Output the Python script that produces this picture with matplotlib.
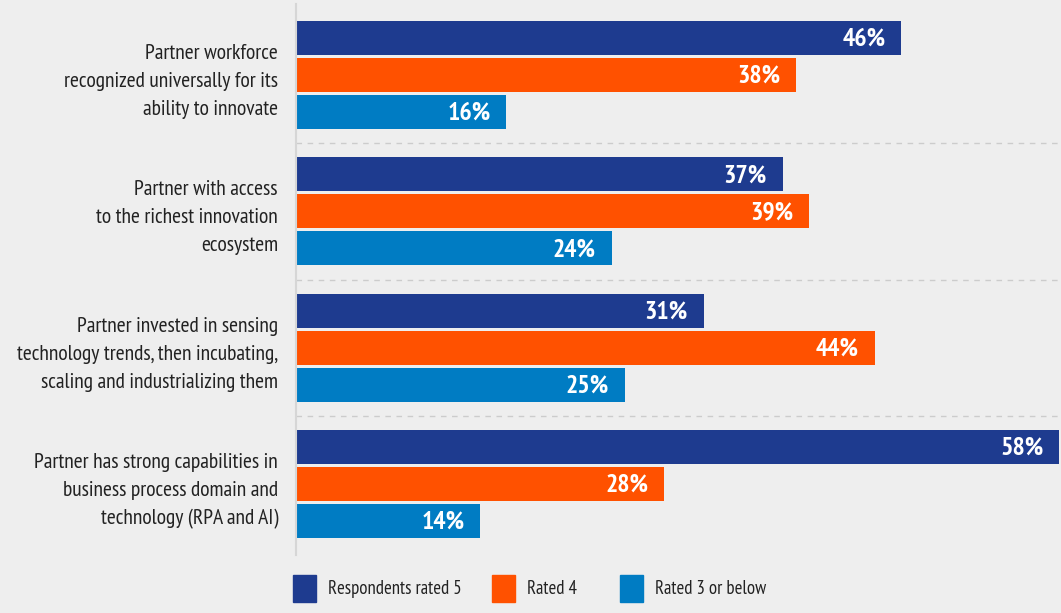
import matplotlib
matplotlib.use("Agg")
import matplotlib.pyplot as plt
from matplotlib.patches import Rectangle

plt.rcParams['font.family'] = ['PT Sans Narrow', 'Asap Condensed', 'Liberation Sans', 'DejaVu Sans']

# データ
categories = [
    "Partner workforce\nrecognized universally for its\nability to innovate",
    "Partner with access\nto the richest innovation\necosystem",
    "Partner invested in sensing\ntechnology trends, then incubating,\nscaling and industrializing them",
    "Partner has strong capabilities in\nbusiness process domain and\ntechnology (RPA and AI)",
]
series_names = ["Respondents rated 5", "Rated 4", "Rated 3 or below"]
rated_5 = [46, 37, 31, 58]
rated_4 = [38, 39, 44, 28]
rated_3_below = [16, 24, 25, 14]
colors = ["#1e3b8f", "#ff5100", "#007cc3"]

BG = "#eeeeee"
W, H = 1061, 613

fig = plt.figure(figsize=(W / 100, H / 100), dpi=100, facecolor=BG)
# 軸の位置 (ピクセル基準)
ax_left, ax_right, ax_top, ax_bottom = 296, 1061, 4, 555
ax = fig.add_axes([ax_left / W, 1 - ax_bottom / H,
                   (ax_right - ax_left) / W, (ax_bottom - ax_top) / H])
ax.set_facecolor(BG)

offset = 0.271
height = 0.25
for k, (vals, col) in enumerate(zip([rated_5, rated_4, rated_3_below], colors)):
    ys = [i + (k - 1) * offset for i in range(len(categories))]
    ax.barh(ys, vals, height=height, color=col, label=series_names[k])
    for y, v in zip(ys, vals):
        ax.text(v - 1.2, y + 0.01, f"{v}%", ha='right', va='center', color='white',
                fontsize=18.5, fontweight='bold')

ax.set_xlim(0, 58.15)
ax.set_ylim(3.52, -0.52)

# 区切り線
for i in range(len(categories) - 1):
    ax.axhline(i + 0.5, color='#cccccc', linestyle=(0, (4, 4)), linewidth=1)

for s in ['top', 'right', 'bottom']:
    ax.spines[s].set_visible(False)
ax.spines['left'].set_color('#d6d6d6')
ax.spines['left'].set_linewidth(1.5)
ax.set_xticks([])
ax.set_yticks(range(len(categories)))
ax.set_yticklabels(categories, fontsize=15.5, color='#222222', linespacing=1.6)
ax.tick_params(axis='y', length=0, pad=13)

# 凡例
legend_x = [293, 492, 620]
for name, col, x in zip(series_names, colors, legend_x):
    fig.patches.append(Rectangle((x / W, 1 - 602 / H), 23 / W, 27 / H,
                                 transform=fig.transFigure, color=col))
    fig.text((x + 35) / W, 1 - 589 / H, name, ha='left', va='center',
             fontsize=13.5, color='#222222')

fig.savefig("out.png", dpi=100, facecolor=BG)
